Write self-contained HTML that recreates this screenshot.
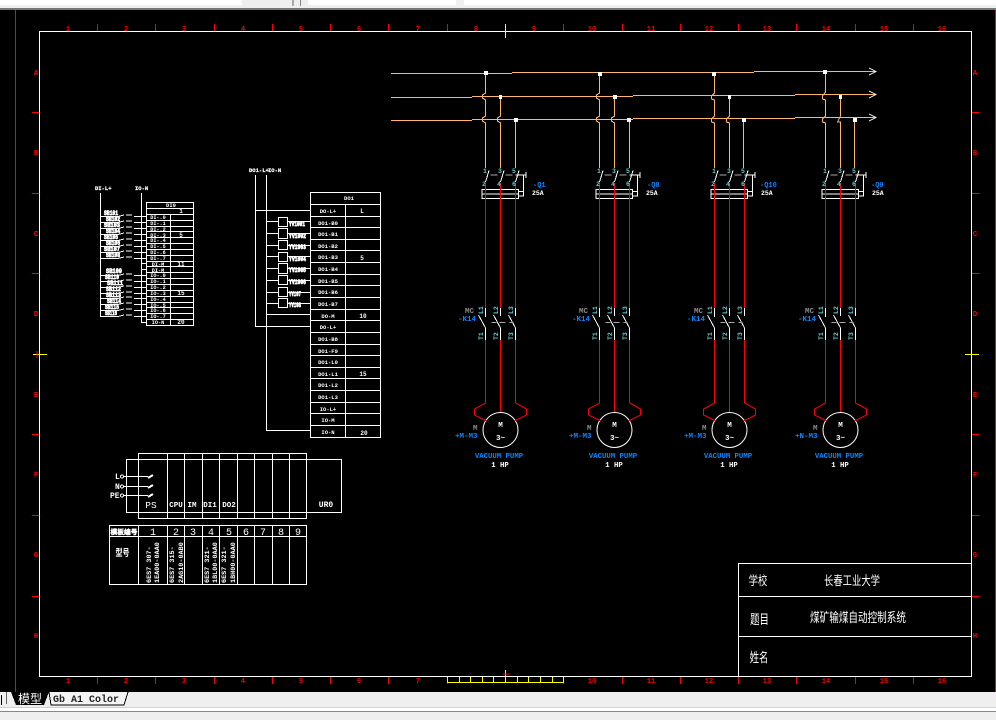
<!DOCTYPE html>
<html><head><meta charset="utf-8"><style>
html,body{margin:0;padding:0;background:#efefef;width:996px;height:720px;overflow:hidden}
svg{display:block}
text{font-family:"Liberation Mono","Noto Sans CJK SC",monospace;white-space:pre}
.r{fill:#f00;font-size:7px;font-weight:bold;text-anchor:middle}
.w{fill:#fff;font-weight:bold}
.b{fill:#0a84ff;font-weight:bold}
.t{fill:#6cc;font-size:6.5px;font-weight:bold}
.g{fill:#8c8c8c;font-weight:bold}
.bl{fill:#fff;font-size:6px;font-weight:bold;stroke:#fff;stroke-width:.7}
.c{text-anchor:middle}
.cn{font-family:"WenQuanYi Zen Hei","Noto Sans CJK SC",sans-serif;fill:#fff;text-anchor:middle}
</style></head><body>
<svg width="996" height="720" viewBox="0 0 996 720" xmlns="http://www.w3.org/2000/svg" shape-rendering="crispEdges">
<defs>
<g id="col" fill="none" stroke-width="1">
 <g stroke="#fff">
  <path d="M3.5 170.5 L0 182 M18.5 170.5 L15 182 M33.5 170.5 L30 182"/>
  <rect x="-3.500" y="189.500" width="36.500" height="9"/>
  <path d="M-3.500 194H33M33 191.500H38V196H33M38 175V196M30 175H40.500M40.500 172V178"/>
  <path d="M-7 315L0 328V340M8 315L15 328V340M23 315L30 328V340M0 308V317M15 308V316M30 308V316"/>
  <circle cx="15" cy="430" r="17.500" shape-rendering="auto"/>
 </g>
 <path stroke="#aaa" d="M5 175H12M20 175H27M6 322.500H11M14 322.500H20M24 322.500H28"/>
 <g stroke="#f00">
  <path d="M0 183V308M15 183V308M30 183V308"/>
  <path d="M0 340V403L-11 409V415L1 421M15 340V412M30 340V403L41 409V415L29 421" shape-rendering="auto"/>
 </g>
</g>
</defs>

<!-- application chrome -->
<rect width="996" height="720" fill="#efefef"/>
<rect x="0" y="0" width="242" height="5" fill="#fff"/>
<rect x="308" y="0" width="148" height="5" fill="#fff"/>
<rect x="464" y="0" width="532" height="5" fill="#fff"/>
<rect x="292" y="0" width="2" height="6" fill="#aaa"/>
<rect x="300" y="0" width="1" height="6" fill="#888"/>
<rect x="0" y="8" width="996" height="2" fill="#777"/>
<rect x="0" y="10" width="996" height="682" fill="#000"/>
<rect x="0" y="707" width="996" height="1" fill="#d0d0d0"/>
<rect x="0" y="708" width="996" height="3" fill="#fff"/>
<rect x="0" y="711" width="996" height="1" fill="#888"/>
<rect x="1" y="695" width="1" height="10" fill="#000"/>
<rect x="6" y="692" width="1" height="12" fill="#666"/>
<path d="M11 692L16 705H44L49 692Z" fill="#000"/>
<path d="M49 692L51 705H124L128 692" fill="#f4f4f4" stroke="#000"/>
<text x="18" y="703" font-size="12" fill="#fff" style='font-family:"WenQuanYi Zen Hei","Noto Sans CJK SC",sans-serif'>模型</text>
<text x="53" y="702" font-size="10" fill="#222" font-weight="bold">Gb A1 Color</text>

<!-- red guide lines -->
<path d="M15.500 10V692M995.500 10V692" stroke="#f00"/>

<!-- frame -->
<rect x="39.500" y="31.500" width="932" height="645" fill="none" stroke="#fff"/>

<!-- ticks -->
<path stroke="#f00" fill="none" d="M97.500 24V31M155.500 24V31M214.500 24V31M272.500 24V31M330.500 24V31M388.500 24V31M447.500 24V31M563.500 24V31M622.500 24V31M680.500 24V31M738.500 24V31M796.500 24V31M855.500 24V31M913.500 24V31
M97.500 677V684M155.500 677V684M214.500 677V684M272.500 677V684M330.500 677V684M388.500 677V684M447.500 677V684M563.500 677V684M622.500 677V684M680.500 677V684M738.500 677V684M796.500 677V684M855.500 677V684M913.500 677V684
M32 112.500H39M32 193.500H39M32 273.500H39M32 434.500H39M32 515.500H39M32 596.500H39
M972 112.500H979M972 193.500H979M972 273.500H979M972 434.500H979M972 515.500H979M972 596.500H979"/>
<path stroke="#ff0" fill="none" d="M505.500 24V38M33 354.500H47M965 354.500H979M505.500 670V682"/>
<path stroke="#f00" fill="none" d="M37 351V358M503 674H509"/>
<path stroke="#ff0" fill="none" d="M447.500 677V682.500H563.500V677M459.500 677V682M470.500 677V682M482.500 677V682M493.500 677V682M505.500 677V682M517.500 677V682M528.500 677V682M540.500 677V682M552.500 677V682"/>

<g>
<text x="68" y="31" class="r">1</text><text x="126" y="31" class="r">2</text><text x="184" y="31" class="r">3</text><text x="243" y="31" class="r">4</text><text x="301" y="31" class="r">5</text><text x="359" y="31" class="r">6</text><text x="418" y="31" class="r">7</text><text x="476" y="31" class="r">8</text><text x="534" y="31" class="r">9</text><text x="592" y="31" class="r">10</text><text x="651" y="31" class="r">11</text><text x="709" y="31" class="r">12</text><text x="767" y="31" class="r">13</text><text x="826" y="31" class="r">14</text><text x="884" y="31" class="r">15</text><text x="942" y="31" class="r">16</text>
<text x="68" y="683" class="r">1</text><text x="126" y="683" class="r">2</text><text x="184" y="683" class="r">3</text><text x="243" y="683" class="r">4</text><text x="301" y="683" class="r">5</text><text x="359" y="683" class="r">6</text><text x="418" y="683" class="r">7</text><text x="592" y="683" class="r">10</text><text x="651" y="683" class="r">11</text><text x="709" y="683" class="r">12</text><text x="767" y="683" class="r">13</text><text x="826" y="683" class="r">14</text><text x="884" y="683" class="r">15</text><text x="942" y="683" class="r">16</text>
<text x="36" y="75" class="r">A</text><text x="36" y="155" class="r">B</text><text x="36" y="236" class="r">C</text><text x="36" y="316" class="r">D</text><text x="36" y="397" class="r">E</text><text x="36" y="477" class="r">F</text><text x="36" y="557" class="r">G</text><text x="36" y="638" class="r">H</text>
<text x="975" y="75" class="r">A</text><text x="975" y="155" class="r">B</text><text x="975" y="236" class="r">C</text><text x="975" y="316" class="r">D</text><text x="975" y="397" class="r">E</text><text x="975" y="477" class="r">F</text><text x="975" y="557" class="r">G</text><text x="975" y="638" class="r">H</text>
</g>

<!-- bus lines -->
<g fill="none" stroke="#ffb56b">
<path d="M391 73.500H512M512 72.500H754M754 71.500H875"/>
<path d="M391 97.500H472M472 96.500H633M633 95.500H795M795 94.500H875"/>
<path d="M391 120.500H472M472 119.500H633M633 118.500H795M795 117.500H875"/>
<path d="M869 68L876 71.500L869 75M869 91L876 94.500L869 98M869 114L876 117.500L869 121" stroke="#fff"/>
<path d="M485.500 73V93L482.500 95V98L485.500 100V116L482.500 118V121L485.500 123V168M500.500 96V116L497.500 118V121L500.500 123V168M515.500 119V168"/>
<path d="M599.500 73V93L596.500 95V98L599.500 100V116L596.500 118V121L599.500 123V168M614.500 96V116L611.500 118V121L614.500 123V168M629.500 119V168"/>
<path d="M714.500 72V93L711.500 96V99L714.500 100V116L711.500 119V122L714.500 123V168M729.500 96V116L726.500 119V122L729.500 123V168M743.500 119V168"/>
<path d="M825.500 72V92L822.500 96V99L825.500 100V116L822.500 119V122L825.500 123V168M840.500 95V116L837.500 122H840.500V168M854.500 118V168"/>
</g>
<path fill="#fff" d="M484 71h4v4h-4zM499 95h3v4h-3zM514 118h4v4h-4zM598 72h4v4h-4zM613 95h4v4h-4zM627 118h4v4h-4zM712 72h4v4h-4zM728 95h3v4h-3zM742 118h4v4h-4zM823 70h4v4h-4zM839 95h3v4h-3zM853 118h4v4h-4z"/>

<use href="#col" x="485.500"/>
<use href="#col" x="599.500"/>
<use href="#col" x="714.500"/>
<use href="#col" x="825.500"/>

<!-- column texts -->
<g>
<text x="483" y="173" class="t">1</text><text x="498" y="173" class="t">3</text><text x="512" y="173" class="t">5</text><text x="482" y="186" class="t">2</text><text x="497" y="186" class="t">4</text><text x="512" y="186" class="t">6</text>
<text x="533" y="187" font-size="7" class="b">-Q1</text><text x="532" y="195" font-size="6.500" class="w">25A</text>
<text x="465" y="313" font-size="7.500" class="g">MC</text><text x="458" y="321" font-size="7.500" class="b">-K14</text>
<text transform="translate(483 314) rotate(-90)" class="t">L1</text><text transform="translate(498 314) rotate(-90)" class="t">L2</text><text transform="translate(513 314) rotate(-90)" class="t">L3</text>
<text transform="translate(483 340) rotate(-90)" class="t">T1</text><text transform="translate(498 340) rotate(-90)" class="t">T2</text><text transform="translate(513 340) rotate(-90)" class="t">T3</text>
<text x="500.500" y="427" font-size="7.500" class="w c">M</text><text x="500.500" y="440" font-size="7.500" class="w c">3~</text>
<text x="473" y="430" font-size="7.500" class="g">M</text><text x="455" y="438" font-size="7.500" class="b">+M-M3</text>
<text x="499" y="458" font-size="7.300" class="b c">VACUUM PUMP</text><text x="500" y="467" font-size="7.300" class="w c">1 HP</text>
</g>
<g>
<text x="597" y="173" class="t">1</text><text x="612" y="173" class="t">3</text><text x="626" y="173" class="t">5</text><text x="596" y="186" class="t">2</text><text x="611" y="186" class="t">4</text><text x="626" y="186" class="t">6</text>
<text x="647" y="187" font-size="7" class="b">-Q8</text><text x="646" y="195" font-size="6.500" class="w">25A</text>
<text x="579" y="313" font-size="7.500" class="g">MC</text><text x="572" y="321" font-size="7.500" class="b">-K14</text>
<text transform="translate(597 314) rotate(-90)" class="t">L1</text><text transform="translate(612 314) rotate(-90)" class="t">L2</text><text transform="translate(627 314) rotate(-90)" class="t">L3</text>
<text transform="translate(597 340) rotate(-90)" class="t">T1</text><text transform="translate(612 340) rotate(-90)" class="t">T2</text><text transform="translate(627 340) rotate(-90)" class="t">T3</text>
<text x="614.500" y="427" font-size="7.500" class="w c">M</text><text x="614.500" y="440" font-size="7.500" class="w c">3~</text>
<text x="587" y="430" font-size="7.500" class="g">M</text><text x="569" y="438" font-size="7.500" class="b">+M-M3</text>
<text x="613" y="458" font-size="7.300" class="b c">VACUUM PUMP</text><text x="614" y="467" font-size="7.300" class="w c">1 HP</text>
</g>
<g>
<text x="712" y="173" class="t">1</text><text x="727" y="173" class="t">3</text><text x="741" y="173" class="t">5</text><text x="711" y="186" class="t">2</text><text x="726" y="186" class="t">4</text><text x="741" y="186" class="t">6</text>
<text x="760" y="187" font-size="7" class="b">-Q10</text><text x="761" y="195" font-size="6.500" class="w">25A</text>
<text x="694" y="313" font-size="7.500" class="g">MC</text><text x="687" y="321" font-size="7.500" class="b">-K14</text>
<text transform="translate(712 314) rotate(-90)" class="t">L1</text><text transform="translate(727 314) rotate(-90)" class="t">L2</text><text transform="translate(742 314) rotate(-90)" class="t">L3</text>
<text transform="translate(712 340) rotate(-90)" class="t">T1</text><text transform="translate(727 340) rotate(-90)" class="t">T2</text><text transform="translate(742 340) rotate(-90)" class="t">T3</text>
<text x="729.500" y="427" font-size="7.500" class="w c">M</text><text x="729.500" y="440" font-size="7.500" class="w c">3~</text>
<text x="702" y="430" font-size="7.500" class="g">M</text><text x="684" y="438" font-size="7.500" class="b">+M-M3</text>
<text x="728" y="458" font-size="7.300" class="b c">VACUUM PUMP</text><text x="729" y="467" font-size="7.300" class="w c">1 HP</text>
</g>
<g>
<text x="823" y="173" class="t">1</text><text x="838" y="173" class="t">3</text><text x="852" y="173" class="t">5</text><text x="822" y="186" class="t">2</text><text x="837" y="186" class="t">4</text><text x="852" y="186" class="t">6</text>
<text x="871" y="187" font-size="7" class="b">-Q9</text><text x="872" y="195" font-size="6.500" class="w">25A</text>
<text x="805" y="313" font-size="7.500" class="g">MC</text><text x="798" y="321" font-size="7.500" class="b">-K14</text>
<text transform="translate(823 314) rotate(-90)" class="t">L1</text><text transform="translate(838 314) rotate(-90)" class="t">L2</text><text transform="translate(853 314) rotate(-90)" class="t">L3</text>
<text transform="translate(823 340) rotate(-90)" class="t">T1</text><text transform="translate(838 340) rotate(-90)" class="t">T2</text><text transform="translate(853 340) rotate(-90)" class="t">T3</text>
<text x="840.500" y="427" font-size="7.500" class="w c">M</text><text x="840.500" y="440" font-size="7.500" class="w c">3~</text>
<text x="813" y="430" font-size="7.500" class="g">M</text><text x="795" y="438" font-size="7.500" class="b">+N-M3</text>
<text x="839" y="458" font-size="7.300" class="b c">VACUUM PUMP</text><text x="840" y="467" font-size="7.300" class="w c">1 HP</text>
</g>

<!-- left IO table -->
<g fill="none" stroke="#fff">
<rect x="146.500" y="202.500" width="47" height="123"/>
<path d="M170.500 214V325M146 208.500H194M146 214.500H194M146 220.500H194M146 226.500H194M146 231.500H194M146 237.500H194M146 243.500H194M146 249.500H194M146 255.500H194M146 261.500H194M146 266.500H194M146 272.500H194M146 278.500H194M146 284.500H194M146 290.500H194M146 296.500H194M146 302.500H194M146 307.500H194M146 313.500H194M146 319.500H194"/>
<path d="M100.500 193V316M141.500 193V322.500M141 263.500H146M141 269.500H146M141 322.500H146"/>
<path d="M100 216.500H118L124 215M126 215H132M134 216.500H146M100 222.500H118L124 221M126 221H132M134 222.500H146M100 228.500H118L124 227M126 227H132M134 228.500H146M100 234.500H118L124 233M126 233H132M134 234.500H146M100 240.500H118L124 239M126 239H132M134 240.500H146M100 246.500H118L124 245M126 245H132M134 246.500H146M100 252.500H118L124 251M126 251H132M134 252.500H146M100 258.500H118L124 257M126 257H132M134 258.500H146
M100 275.500H118L124 274M126 274H132M134 275.500H146M100 281.500H118L124 280M126 280H132M134 281.500H146M100 287.500H118L124 286M126 286H132M134 287.500H146M100 293.500H118L124 292M126 292H132M134 293.500H146M100 298.500H118L124 297M126 297H132M134 298.500H146M100 304.500H118L124 303M126 303H132M134 304.500H146M100 310.500H118L124 309M126 309H132M134 310.500H146M100 316.500H118L124 315M126 315H132M134 316.500H146"/>
</g>
<text x="95" y="190" font-size="5.500" class="w" stroke="#fff" stroke-width=".2">DI-L+</text>
<text x="135" y="190" font-size="5.500" class="w" stroke="#fff" stroke-width=".2">IO-N</text>
<g>
<text x="171" y="207" class="w c" font-size="5.500">DI0</text><text x="181" y="213" class="w c" font-size="6">1</text>
<text x="158" y="219" class="w c" font-size="5.200">DI-.0</text><text x="158" y="225" class="w c" font-size="5.200">DI-.1</text><text x="158" y="231" class="w c" font-size="5.200">DI-.2</text><text x="158" y="237" class="w c" font-size="5.200">DI-.3</text><text x="181" y="237" class="w c" font-size="6">5</text><text x="158" y="242" class="w c" font-size="5.200">DI-.4</text><text x="158" y="248" class="w c" font-size="5.200">DI-.5</text><text x="158" y="254" class="w c" font-size="5.200">DI-.6</text><text x="158" y="260" class="w c" font-size="5.200">DI-.7</text>
<text x="158" y="266" class="w c" font-size="5.200">DI-M</text><text x="181" y="266" class="w c" font-size="6">11</text><text x="158" y="272" class="w c" font-size="5.200">DI-M</text>
<text x="158" y="277" class="w c" font-size="5.200">IO-.0</text><text x="158" y="283" class="w c" font-size="5.200">IO-.1</text><text x="158" y="289" class="w c" font-size="5.200">IO-.2</text><text x="158" y="295" class="w c" font-size="5.200">IO-.3</text><text x="181" y="295" class="w c" font-size="6">15</text><text x="158" y="301" class="w c" font-size="5.200">IO-.4</text><text x="158" y="307" class="w c" font-size="5.200">IO-.5</text><text x="158" y="312" class="w c" font-size="5.200">IO-.6</text><text x="158" y="318" class="w c" font-size="5.200">IO-.7</text>
<text x="158" y="324" class="w c" font-size="5.200">IO-N</text><text x="181" y="324" class="w c" font-size="6">20</text>
</g>
<g class="bl">
<text x="104" y="215" textLength="14" lengthAdjust="spacingAndGlyphs">SB101</text><text x="106" y="221" textLength="14" lengthAdjust="spacingAndGlyphs">SB102</text><text x="104" y="227" textLength="16" lengthAdjust="spacingAndGlyphs">SB103</text><text x="106" y="233" textLength="14" lengthAdjust="spacingAndGlyphs">SB104</text><text x="104" y="239" textLength="14" lengthAdjust="spacingAndGlyphs">SB105</text><text x="106" y="245" textLength="14" lengthAdjust="spacingAndGlyphs">SB106</text><text x="104" y="251" textLength="16" lengthAdjust="spacingAndGlyphs">SB107</text><text x="106" y="257" textLength="14" lengthAdjust="spacingAndGlyphs">SB108</text>
<text x="106" y="273" textLength="16" lengthAdjust="spacingAndGlyphs">SB109</text><text x="105" y="279" textLength="14" lengthAdjust="spacingAndGlyphs">SB110</text><text x="107" y="285" textLength="16" lengthAdjust="spacingAndGlyphs">SB111</text><text x="106" y="291" textLength="15" lengthAdjust="spacingAndGlyphs">SB112</text><text x="106" y="297" textLength="15" lengthAdjust="spacingAndGlyphs">SB113</text><text x="107" y="303" textLength="14" lengthAdjust="spacingAndGlyphs">SB114</text><text x="105" y="309" textLength="14" lengthAdjust="spacingAndGlyphs">SB115</text><text x="105" y="315" textLength="12" lengthAdjust="spacingAndGlyphs">SB116</text>
</g>

<!-- middle IO table -->
<g fill="none" stroke="#fff">
<rect x="310.500" y="192.500" width="70" height="245"/>
<path d="M345.500 204V437M310 204.500H380M310 216.500H380M310 227.500H380M310 239.500H380M310 250.500H380M310 262.500H380M310 274.500H380M310 285.500H380M310 297.500H380M310 309.500H380M310 320.500H380M310 332.500H380M310 344.500H380M310 355.500H380M310 367.500H380M310 378.500H380M310 390.500H380M310 402.500H380M310 413.500H380M310 425.500H380"/>
<path d="M255.500 175V326.500M266.500 175V430.500H310M255 210.500H310M255 326.500H310M266 314.500H310"/>
<rect x="278.500" y="217.500" width="9" height="9"/><rect x="278.500" y="228.500" width="9" height="10"/><rect x="278.500" y="240.500" width="9" height="9"/><rect x="278.500" y="252.500" width="9" height="9"/><rect x="278.500" y="263.500" width="9" height="10"/><rect x="278.500" y="275.500" width="9" height="9"/><rect x="278.500" y="287.500" width="9" height="9"/><rect x="278.500" y="298.500" width="9" height="9"/>
<path d="M266 221.500H278M288 221.500H310M266 233.500H278M288 233.500H310M266 245.500H278M288 245.500H310M266 256.500H278M288 256.500H310M266 268.500H278M288 268.500H310M266 280.500H278M288 280.500H310M266 292.500H278M288 292.500H310M266 303.500H278M288 303.500H310"/>
</g>
<text x="249" y="172" font-size="5.500" class="w" stroke="#fff" stroke-width=".2">DO1-L+</text><text x="268" y="172" font-size="5.500" class="w" stroke="#fff" stroke-width=".2">IO-N</text>
<g>
<text x="349" y="200" class="w c" font-size="5.500">DO1</text>
<text x="328" y="213" class="w c" font-size="5.500">DO-L+</text><text x="362" y="213" class="w c" font-size="6">L</text>
<text x="328" y="225" class="w c" font-size="5.500">DO1-B0</text>
<text x="328" y="236" class="w c" font-size="5.500">DO1-B1</text>
<text x="328" y="248" class="w c" font-size="5.500">DO1-B2</text>
<text x="328" y="259" class="w c" font-size="5.500">DO1-B3</text><text x="362" y="260" class="w c" font-size="6">5</text>
<text x="328" y="271" class="w c" font-size="5.500">DO1-B4</text>
<text x="328" y="283" class="w c" font-size="5.500">DO1-B5</text>
<text x="328" y="294" class="w c" font-size="5.500">DO1-B6</text>
<text x="328" y="306" class="w c" font-size="5.500">DO1-B7</text>
<text x="328" y="318" class="w c" font-size="5.500">DO-M</text><text x="363" y="318" class="w c" font-size="6">10</text>
<text x="328" y="329" class="w c" font-size="5.500">DO-L+</text>
<text x="328" y="341" class="w c" font-size="5.500">DO1-B8</text>
<text x="328" y="353" class="w c" font-size="5.500">DO1-F9</text>
<text x="328" y="364" class="w c" font-size="5.500">DO1-L0</text>
<text x="328" y="376" class="w c" font-size="5.500">DO1-L1</text><text x="363" y="376" class="w c" font-size="6">15</text>
<text x="328" y="387" class="w c" font-size="5.500">DO1-L2</text>
<text x="328" y="399" class="w c" font-size="5.500">DO1-L3</text>
<text x="328" y="411" class="w c" font-size="5.500">IO-L+</text>
<text x="328" y="422" class="w c" font-size="5.500">IO-M</text>
<text x="328" y="434" class="w c" font-size="5.500">IO-N</text><text x="364" y="435" class="w c" font-size="6">20</text>
</g>
<g class="bl">
<text x="289" y="226" textLength="16" lengthAdjust="spacingAndGlyphs">YV1001</text><text x="289" y="238" textLength="17" lengthAdjust="spacingAndGlyphs">YV1002</text><text x="289" y="249" textLength="17" lengthAdjust="spacingAndGlyphs">YV1003</text><text x="289" y="261" textLength="17" lengthAdjust="spacingAndGlyphs">YV1004</text><text x="289" y="272" textLength="17" lengthAdjust="spacingAndGlyphs">YV1005</text><text x="289" y="284" textLength="17" lengthAdjust="spacingAndGlyphs">YV1006</text><text x="289" y="296" textLength="12" lengthAdjust="spacingAndGlyphs">YV107</text><text x="289" y="307" textLength="12" lengthAdjust="spacingAndGlyphs">YV108</text>
</g>

<!-- rack -->
<g fill="none" stroke="#fff">
<rect x="126.500" y="459.500" width="215" height="53"/>
<rect x="138.500" y="453.500" width="168" height="65"/>
<path d="M167.500 453V518M184.500 453V518M202.500 453V518M219.500 453V518M237.500 453V518M254.500 453V518M272.500 453V518M289.500 453V518
M124 476.500H148M124 486.500H148M124 495.500H148"/>
<path d="M148 478L153 475M148 488L153 485M148 497L153 494" stroke-width="2"/>
<circle cx="122" cy="476.500" r="1.500"/><circle cx="122" cy="486.500" r="1.500"/><circle cx="122" cy="495.500" r="1.500"/>
<rect x="109.500" y="525.500" width="197" height="59"/>
<path d="M109 536.500H306M138.500 525V584M167.500 525V584M184.500 525V584M202.500 525V584M219.500 525V584M237.500 525V584M254.500 525V584M272.500 525V584M289.500 525V584"/>
</g>
<g>
<text x="115" y="479" font-size="8" class="w">L</text><text x="115" y="489" font-size="8" class="w">N</text><text x="110" y="498" font-size="8" class="w">PE</text>
<text x="151" y="508" font-size="9.500" class="w c" style="font-weight:normal">PS</text><text x="176" y="507" font-size="7.500" class="w c">CPU</text><text x="192" y="507" font-size="7.500" class="w c">IM</text><text x="210" y="507" font-size="7.500" class="w c">DI1</text><text x="229" y="507" font-size="7.500" class="w c">DO2</text><text x="326" y="507" font-size="8" class="w c">UR0</text>
<text x="124" y="534" class="cn" font-size="6.500" font-weight="bold" stroke="#fff" stroke-width=".4" textLength="27" lengthAdjust="spacingAndGlyphs">模板编号</text>
<text x="153" y="535" font-size="10" class="w c" style="font-weight:normal">1</text><text x="176" y="535" font-size="10" class="w c" style="font-weight:normal">2</text><text x="193" y="535" font-size="10" class="w c" style="font-weight:normal">3</text><text x="211" y="535" font-size="10" class="w c" style="font-weight:normal">4</text><text x="229" y="535" font-size="10" class="w c" style="font-weight:normal">5</text><text x="246" y="535" font-size="10" class="w c" style="font-weight:normal">6</text><text x="263" y="535" font-size="10" class="w c" style="font-weight:normal">7</text><text x="281" y="535" font-size="10" class="w c" style="font-weight:normal">8</text><text x="298" y="535" font-size="10" class="w c" style="font-weight:normal">9</text>
<text transform="translate(122.500 556) scale(1 1.4)" class="cn" font-size="7" font-weight="bold">型号</text>
<text transform="translate(151 583) rotate(-90)" font-size="6.800" class="w">6ES7 307-</text><text transform="translate(159 583) rotate(-90)" font-size="6.800" class="w">1EA00-0AA0</text>
<text transform="translate(174 583) rotate(-90)" font-size="6.800" class="w">6ES7 315-</text><text transform="translate(183 583) rotate(-90)" font-size="6.800" class="w">2AG10-0AB0</text>
<text transform="translate(209 583) rotate(-90)" font-size="6.800" class="w">6ES7 321-</text><text transform="translate(217 583) rotate(-90)" font-size="6.800" class="w">1BL00-0AA0</text>
<text transform="translate(226 583) rotate(-90)" font-size="6.800" class="w">6ES7 321-</text><text transform="translate(235 583) rotate(-90)" font-size="6.800" class="w">1BH00-0AA0</text>
</g>

<!-- title block -->
<path fill="none" stroke="#fff" d="M738.500 563.500H971M738.500 596.500H971M738.500 636.500H971M738.500 563V676"/>
<text transform="translate(758 585) scale(.78 1.05)" class="cn" font-size="12">学校</text>
<text transform="translate(852 585) scale(.78 1.05)" class="cn" font-size="12">长春工业大学</text>
<text transform="translate(759.500 624) scale(.78 1.1)" class="cn" font-size="12">题目</text>
<text transform="translate(858 622) scale(.8 1.1)" class="cn" font-size="12">煤矿输煤自动控制系统</text>
<text transform="translate(759 662) scale(.78 1.1)" class="cn" font-size="12">姓名</text>
</svg>
</body></html>
